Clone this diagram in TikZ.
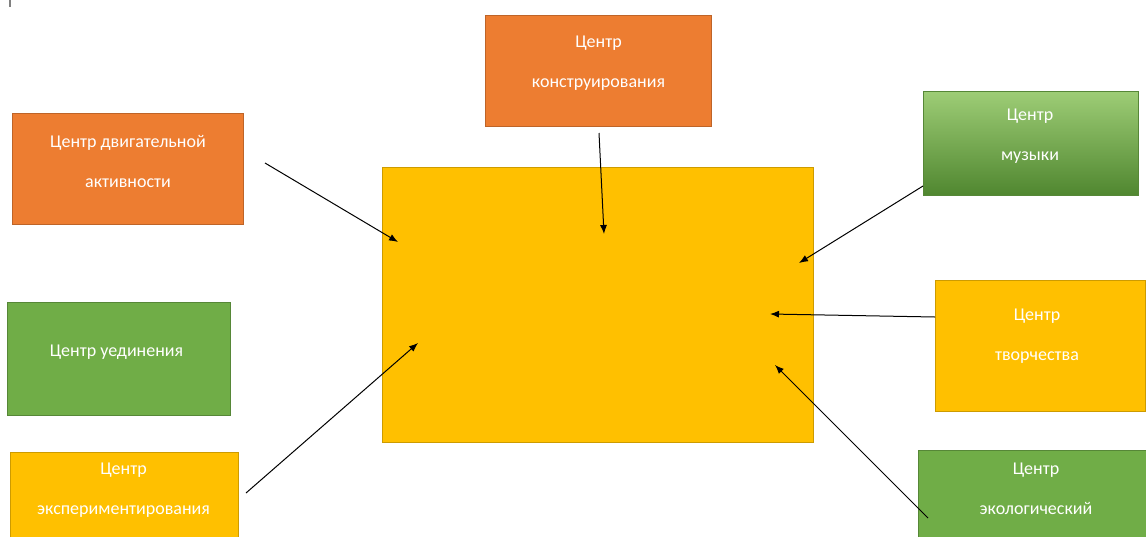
\documentclass[tikz,border=0pt]{standalone}
\usepackage{fontspec}
\setmainfont{Carlito}
\usepackage{tikz}
\usetikzlibrary{arrows.meta}
\definecolor{carrot}{RGB}{237, 125, 49}
\definecolor{carrotdark}{RGB}{190, 100, 40}
\definecolor{grass}{RGB}{112, 173, 71}
\definecolor{grassdark}{RGB}{86, 135, 55}
\definecolor{grasslight}{RGB}{158, 205, 118}
\definecolor{grassdeep}{RGB}{80, 135, 48}
\definecolor{amber}{RGB}{255, 192, 0}
\definecolor{amberdark}{RGB}{205, 155, 0}
\tikzset{
  centerbox/.style={draw, line width=0.8pt, inner sep=0pt, anchor=center},
  centertext/.style={text=white, align=center, font=\fontsize{18}{40}\selectfont},
  link/.style={-{Latex[length=9pt, width=7pt]}, line width=1pt, black}
}

\begin{document}
\begin{tikzpicture}[x=1pt, y=-1pt]
            \useasboundingbox (0,0) rectangle (1146,536);
            \clip (0,0) rectangle (1146,536);
            \draw[gray, line width=1.2pt] (10,0) -- (10,7);
            % boxes
            \node[centerbox, color=amberdark,  fill=amber,  minimum width=431pt, minimum height=275pt] (hub)    at ( 597.5, 304.5) {};
            \node[centerbox, color=carrotdark, fill=carrot, minimum width=231pt, minimum height=111pt] (motion) at ( 127.5, 168.5) {};
            \node[centerbox, color=carrotdark, fill=carrot, minimum width=226pt, minimum height=111pt] (build)  at ( 598.0,  70.5) {};
            \node[centerbox, color=grassdark,  top color=grasslight, bottom color=grassdeep, minimum width=215pt, minimum height=104pt] (music) at (1030.5, 143.0) {};
            \node[centerbox, color=grassdark,  fill=grass,  minimum width=223pt, minimum height=113pt] (alone)  at ( 118.5, 358.5) {};
            \node[centerbox, color=amberdark,  fill=amber,  minimum width=228pt, minimum height=90pt]  (expt)   at ( 124.0, 497.0) {};
            \node[centerbox, color=amberdark,  fill=amber,  minimum width=210pt, minimum height=131pt] (art)    at (1040.0, 345.5) {};
            \node[centerbox, color=grassdark,  fill=grass,  minimum width=228pt, minimum height=92pt]  (eco)    at (1032.0, 496.0) {};
            % texts
            \node[centertext] (motiontxt) at ( 128.0, 161.0) {Центр двигательной\\активности};
            \node[centertext] (buildtxt)  at ( 598.5,  63.0) {Центр\\конструирования};
            \node[centertext] (musictxt)  at (1030.0, 136.0) {Центр\\музыки};
            \node[centertext] (alonetxt)  at ( 116.5, 352.0) {Центр уединения};
            \node[centertext] (expttxt)   at ( 123.5, 490.0) {Центр\\экспериментирования};
            \node[centertext] (arttxt)    at (1037.0, 336.0) {Центр\\творчества};
            \node[centertext] (ecotxt)    at (1036.0, 489.0) {Центр\\экологический};
            % arrow ends
            \coordinate (m1) at (265,163); \coordinate (m2) at (398,242);
            \coordinate (b1) at (599,133); \coordinate (b2) at (604,234);
            \coordinate (u1) at (923,186); \coordinate (u2) at (799,263);
            \coordinate (a1) at (935,317); \coordinate (a2) at (770,314);
            \coordinate (e1) at (928,518); \coordinate (e2) at (775,365);
            \coordinate (x1) at (246,493); \coordinate (x2) at (418,343);
            \draw[link] (m1) -- (m2);
            \draw[link] (b1) -- (b2);
            \draw[link] (u1) -- (u2);
            \draw[link] (a1) -- (a2);
            \draw[link] (e1) -- (e2);
            \draw[link] (x1) -- (x2);
        \end{tikzpicture}
\end{document}
